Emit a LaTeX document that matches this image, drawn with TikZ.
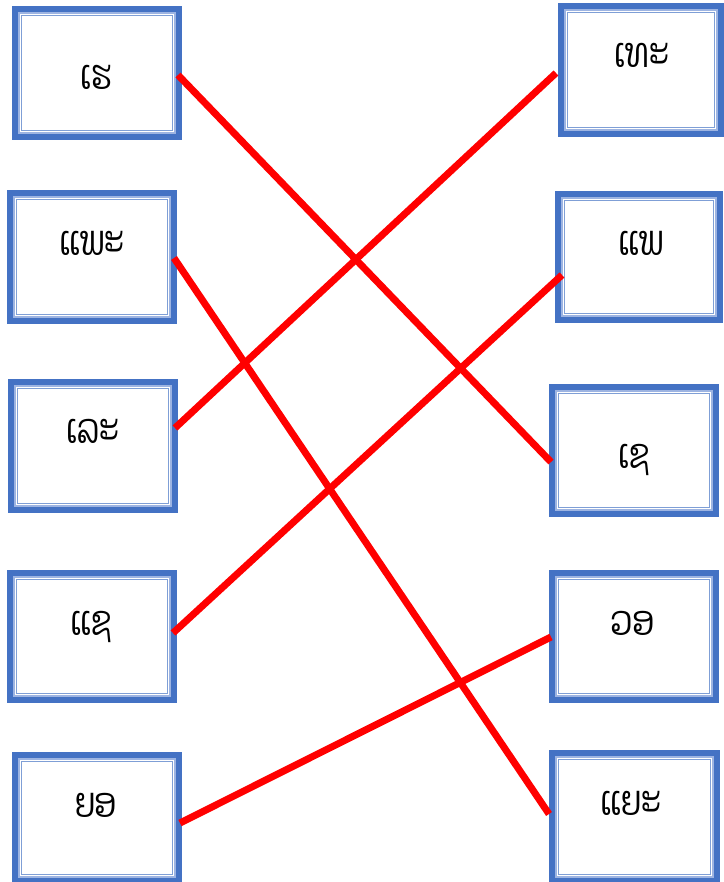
\documentclass[tikz,border=0pt]{standalone}
\usepackage{fontspec}
\usepackage{graphicx}
\newfontfamily\laofont[Script=Lao]{Dhyana}
\newcommand{\laoword}[1]{\scalebox{1}[1.3]{\laofont\fontsize{32}{38}\selectfont #1}}
\definecolor{boxblue}{HTML}{4472C4}
\definecolor{bandblue}{HTML}{9DB4E2}
\definecolor{thinblue}{HTML}{7F9FD6}
\definecolor{linered}{HTML}{FF0000}
\tikzset{
  wordbox/.style={draw=boxblue, line width=6pt, inner sep=0pt, outer sep=0pt, fill=white},
  wordtext/.style={anchor=base, inner sep=0pt},
  matchline/.style={draw=linered, line width=7pt},
  bandline/.style={draw=bandblue, line width=1.8pt},
  thinline/.style={draw=thinblue, line width=1pt}
}
\begin{document}
\begin{tikzpicture}[x=1pt,y=1pt]
\useasboundingbox (0,0) rectangle (723,-882);
% left boxes
\node[wordbox, minimum width=164pt, minimum height=128pt] (L1) at (97,-73) {};
\node[wordbox, minimum width=164pt, minimum height=128pt] (L2) at (92,-257) {};
\node[wordbox, minimum width=164pt, minimum height=128pt] (L3) at (93,-446) {};
\node[wordbox, minimum width=164pt, minimum height=127pt] (L4) at (92,-636.5) {};
\node[wordbox, minimum width=164pt, minimum height=126pt] (L5) at (97,-818) {};
% right boxes
\node[wordbox, minimum width=160pt, minimum height=128pt] (R1) at (641,-70) {};
\node[wordbox, minimum width=162pt, minimum height=126pt] (R2) at (639,-257) {};
\node[wordbox, minimum width=164pt, minimum height=127pt] (R3) at (634,-450.5) {};
\node[wordbox, minimum width=164pt, minimum height=127pt] (R4) at (634,-636.5) {};
\node[wordbox, minimum width=165pt, minimum height=128pt] (R5) at (634.5,-817) {};
% inner double-border lines
\foreach \b in {L1,L2,L3,L4,L5,R1,R2,R3,R4,R5}{
  \draw[bandline] ([shift={(4,-4)}]\b.north west) rectangle ([shift={(-4,4)}]\b.south east);
  \draw[thinline] ([shift={(6.5,-6.5)}]\b.north west) rectangle ([shift={(-6.5,6.5)}]\b.south east);
}
% texts
\node[wordtext] (tL1) at (96,-90) {\laoword{ເຮ}};
\node[wordtext] (tL2) at (92,-255) {\laoword{ແພະ}};
\node[wordtext] (tL3) at (93,-443) {\laoword{ເລະ}};
\node[wordtext] (tL4) at (91,-635) {\laoword{ແຊ}};
\node[wordtext] (tL5) at (96,-817) {\laoword{ຍອ}};
\node[wordtext] (tR1) at (642,-68) {\laoword{ເທະ}};
\node[wordtext] (tR2) at (641,-255) {\laoword{ແພ}};
\node[wordtext] (tR3) at (634,-468) {\laoword{ເຊ}};
\node[wordtext] (tR4) at (632,-635) {\laoword{ວອ}};
\node[wordtext] (tR5) at (631,-815) {\laoword{ແຍະ}};
% connector end points
\coordinate (a1) at (178,-75);
\coordinate (a2) at (174,-258);
\coordinate (a3) at (175,-428);
\coordinate (a4) at (173,-633);
\coordinate (a5) at (180,-823);
\coordinate (b1) at (556,-73);
\coordinate (b2) at (562,-275);
\coordinate (b3) at (551,-462);
\coordinate (b4) at (551,-637);
\coordinate (b5) at (549,-814);
% connectors
\draw[matchline] (a1) -- (b3);
\draw[matchline] (a2) -- (b5);
\draw[matchline] (a3) -- (b1);
\draw[matchline] (a4) -- (b2);
\draw[matchline] (a5) -- (b4);
\end{tikzpicture}
\end{document}
